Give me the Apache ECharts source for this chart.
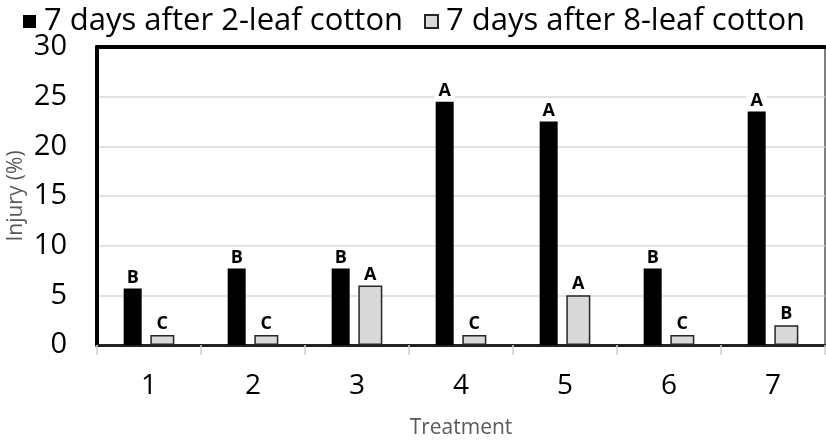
<!DOCTYPE html>
<html>
<head>
<meta charset="utf-8">
<script src="https://cdn.jsdelivr.net/npm/echarts@6/dist/echarts.min.js"></script>
<style>
  html, body { margin: 0; padding: 0; background: #fff; }
  #chart { width: 826px; height: 440px; }
</style>
</head>
<body>
<div id="chart"></div>
<script>
// 数据
var categories = ['1', '2', '3', '4', '5', '6', '7'];
var seriesNames = ['7 days after 2-leaf cotton', '7 days after 8-leaf cotton'];
var leaf2Values = [5.7, 7.7, 7.7, 24.5, 22.5, 7.7, 23.5];
var leaf8Values = [1, 1, 6, 1, 5, 1, 2];
var leaf2Letters = ['B', 'B', 'B', 'A', 'A', 'B', 'A'];
var leaf8Letters = ['C', 'C', 'A', 'C', 'A', 'C', 'B'];

var fontFamily = '"Open Sans", Lato, sans-serif';

function withLetters(values, letters) {
  return values.map(function (v, i) {
    return { value: v, label: { formatter: letters[i] } };
  });
}

var letterLabel = {
  show: true,
  position: 'top',
  distance: 2,
  fontFamily: fontFamily,
  fontSize: 18,
  fontWeight: 'bold',
  color: '#000',
  backgroundColor: '#fff',
  padding: [0, 4, 0, 4]
};

// 图例分开放，两项位置各自对齐
function legendAt(left, name) {
  return {
    top: 1,
    left: left,
    itemWidth: 13,
    itemHeight: 13,
    itemGap: 0,
    icon: 'rect',
    textStyle: { fontSize: 31, color: '#000', fontFamily: fontFamily, padding: [0, 0, 0, 3] },
    data: [name]
  };
}

var myChart = echarts.init(document.getElementById('chart'));
var option = {
  animation: false,
  backgroundColor: '#fff',
  textStyle: { fontFamily: fontFamily },
  legend: [legendAt(18, seriesNames[0]), legendAt(419, seriesNames[1])],
  grid: {
    left: 97,
    right: 1,
    top: 47,
    bottom: 95,
    show: true,
    borderColor: '#000',
    borderWidth: 1,
    outerBoundsMode: 'none'
  },
  xAxis: [
    {
      type: 'category',
      data: categories,
      position: 'bottom',
      name: 'Treatment',
      nameLocation: 'middle',
      nameGap: 73,
      nameTextStyle: { fontSize: 21, color: '#595959' },
      axisLine: { lineStyle: { color: '#222', width: 3 } },
      axisTick: { show: true, length: 10, lineStyle: { color: '#d0d0d0', width: 1.5 } },
      axisLabel: { fontSize: 28, color: '#000', margin: 27 }
    },
    {
      type: 'category',
      data: categories,
      position: 'top',
      axisLine: { lineStyle: { color: '#000', width: 4 } },
      axisTick: { show: false },
      axisLabel: { show: false }
    }
  ],
  yAxis: {
    type: 'value',
    min: 0,
    max: 30,
    interval: 5,
    name: 'Injury (%)',
    nameLocation: 'middle',
    nameGap: 70,
    nameMoveOverlap: false,
    nameTextStyle: { fontSize: 21, color: '#595959' },
    axisLine: { show: true, lineStyle: { color: '#000', width: 4 } },
    axisTick: { show: false },
    axisLabel: { fontSize: 29, color: '#000', margin: 30 },
    splitLine: { show: true, lineStyle: { color: '#d9d9d9', width: 1.5 } }
  },
  series: [
    {
      name: seriesNames[0],
      type: 'bar',
      barWidth: 18,
      barGap: '48%',
      itemStyle: { color: '#000' },
      label: letterLabel,
      data: withLetters(leaf2Values, leaf2Letters)
    },
    {
      name: seriesNames[1],
      type: 'bar',
      barWidth: 24,
      itemStyle: { color: '#d9d9d9', borderColor: '#262626', borderWidth: 1.5 },
      label: letterLabel,
      data: withLetters(leaf8Values, leaf8Letters)
    }
  ]
};
myChart.setOption(option);
</script>
</body>
</html>
